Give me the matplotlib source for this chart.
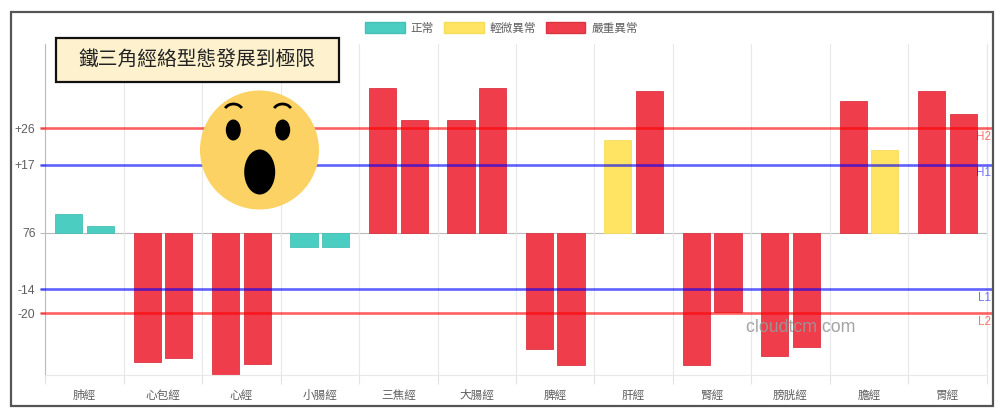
import matplotlib
matplotlib.use("Agg")
import matplotlib.pyplot as plt
from matplotlib.patches import Rectangle, Circle, Ellipse, Arc, Patch

plt.rcParams["font.family"] = ["Liberation Sans", "Noto Sans CJK TC", "DejaVu Sans"]

# data, deviation from the baseline (shown as 76)
meridians = ["肺經", "心包經", "心經", "小腸經", "三焦經", "大腸經",
             "脾經", "肝經", "腎經", "膀胱經", "膽經", "胃經"]
left_values = [4.8, -32.0, -35.3, -3.4, 36.1, 28.2, -28.9, 23.0, -32.8, -30.5, 32.9, 35.2]
right_values = [1.8, -31.0, -32.6, -3.4, 28.2, 36.1, -32.8, 35.4, -19.8, -28.4, 20.6, 29.6]
# 0 normal, 1 slight, 2 severe
left_status = [0, 2, 2, 0, 2, 2, 2, 1, 2, 2, 2, 2]
right_status = [0, 2, 2, 0, 2, 2, 2, 2, 2, 2, 1, 2]
status_names = ["正常", "輕微異常", "嚴重異常"]
status_colors = ["#4ccdc2", "#fee462", "#f03d4b"]
status_edges = ["#45c0b6", "#f6dc5c", "#d93543"]

y_ticks = [26, 17, 0, -14, -20]
y_tick_labels = ["+26", "+17", "76", "-14", "-20"]
limit_values = [26, 17, -14, -20]
limit_names = ["H2", "H1", "L1", "L2"]
limit_colors = ["#ff0000", "#0000ff", "#0000ff", "#ff0000"]

title_text = "鐵三角經絡型態發展到極限"
watermark = "cloudtcm com"

fig = plt.figure(figsize=(10, 4.16), dpi=100)
ax = fig.add_axes([0.0453, 41.4 / 416, 0.9414, 331 / 416])

n = len(meridians)
bar_w = 0.347
offset = 0.202
for i in range(n):
    ax.bar(i - offset, left_values[i], bar_w, color=status_colors[left_status[i]],
           edgecolor=status_edges[left_status[i]], lw=0.6, zorder=2)
    ax.bar(i + offset, right_values[i], bar_w, color=status_colors[right_status[i]],
           edgecolor=status_edges[right_status[i]], lw=0.6, zorder=2)

ax.set_xlim(-0.5, n - 0.5)
ax.set_ylim(-35.25, 47.1)
ax.axhline(0, color="#bbbbbb", lw=0.8, zorder=1)

# category boundaries run a little below the plot, labels sit between them
ax.set_xticks(range(n))
ax.set_xticklabels(meridians, fontsize=8.4, color="#5f5f5f")
ax.set_xticks([i - 0.5 for i in range(n + 1)], minor=True)
ax.tick_params(axis="x", which="major", length=0, pad=11)
ax.tick_params(axis="x", which="minor", length=6.5, color="#e2e2e2", width=0.8)
ax.grid(axis="x", which="minor", color="#e8e8e8", lw=0.8, zorder=0)

ax.set_yticks(y_ticks)
ax.set_yticklabels(y_tick_labels, fontsize=8.8, color="#5f5f5f")
ax.tick_params(axis="y", length=3.6, color="#bbbbbb", width=0.8, pad=3.5)

for side in ["right", "bottom"]:
    ax.spines[side].set_color("#e8e8e8")
    ax.spines[side].set_linewidth(0.8)
ax.spines["top"].set_visible(False)
ax.spines["left"].set_color("#bbbbbb")
ax.spines["left"].set_linewidth(0.8)

# limit lines overrun the plot on both sides, up to the frame
for value, name, color in zip(limit_values, limit_names, limit_colors):
    ax.plot([-0.565, n - 0.43], [value, value], color=color, alpha=0.62, lw=1.9,
            clip_on=False, zorder=3, solid_capstyle="butt")
    ax.annotate(name, xy=(1.0, value), xycoords=("axes fraction", "data"),
                xytext=(3.2, -6.2), textcoords="offset points", ha="right", va="center",
                fontsize=8.4, color=color, alpha=0.55, annotation_clip=False)

handles = [Patch(facecolor=c, edgecolor=e) for c, e in zip(status_colors, status_edges)]
fig.legend(handles, status_names, loc="center", bbox_to_anchor=(0.5015, 1 - 28.5 / 416),
           ncol=3, frameon=False, fontsize=8.4, labelcolor="#5f5f5f",
           handlelength=3.4, handleheight=0.95, handletextpad=0.5, columnspacing=0.85,
           borderpad=0, borderaxespad=0)

# overlay in pixel coordinates for the pasted-on decorations
over = fig.add_axes([0, 0, 1, 1], zorder=5)
over.set_xlim(0, 1000)
over.set_ylim(416, 0)
over.axis("off")

over.add_patch(Rectangle((11, 12), 981.5, 394, fill=False, edgecolor="#555555", lw=1.6))
over.add_patch(Rectangle((55.5, 37.5), 283, 44, facecolor="#fdf1ce", edgecolor="#111111", lw=1.6))
over.text(197, 60, title_text, fontsize=14.2, color="#222222", ha="center", va="center")

over.add_patch(Circle((259.5, 150), 59.5, color="#fbd263", lw=0))
over.add_patch(Ellipse((233.3, 130), 15, 21, color="black", lw=0))
over.add_patch(Ellipse((282.7, 130), 15, 21, color="black", lw=0))
over.add_patch(Ellipse((259.7, 172), 31, 45, color="black", lw=0))
over.add_patch(Arc((233.5, 112), 19, 16, theta1=205, theta2=335, color="black", lw=2))
over.add_patch(Arc((282.5, 112), 19, 16, theta1=205, theta2=335, color="black", lw=2))

over.text(801, 327, watermark, fontsize=12.8, color="#999999", alpha=0.9, ha="center", va="center")

fig.savefig("out.png", dpi=100)
